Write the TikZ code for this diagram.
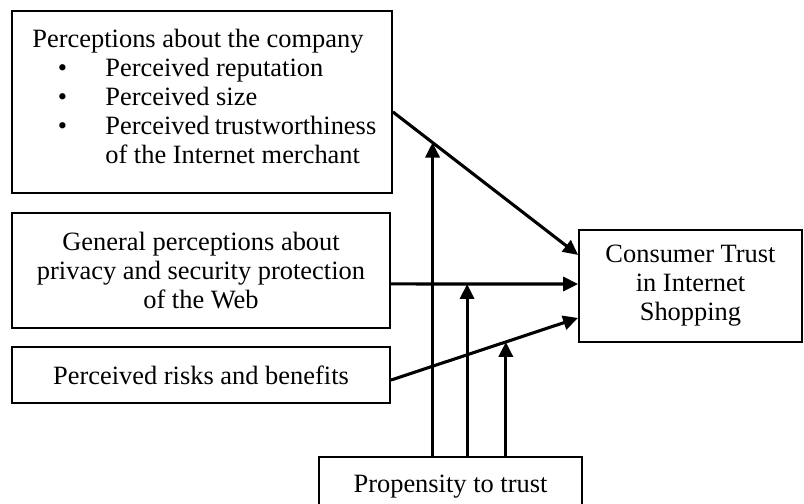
\documentclass[tikz,border=0pt]{standalone}
\usepackage{fontspec}
\setmainfont{Liberation Serif}
\usetikzlibrary{arrows.meta,positioning,calc}
\tikzset{
  box-style/.style 2 args = {
    rectangle, draw, line width=0.8pt,
    minimum width=#1*0.454pt,
    minimum height=#2*0.454pt,
    inner sep=0pt, align=center,
    font=\fontsize{12}{13.2}\selectfont
  },
  text-style/.style = {
    inner sep=0pt,
    font=\fontsize{12}{13.2}\selectfont
  },
  every edge/.style = {draw, -{Triangle[length=6.8pt,width=6.4pt]}, line width=1.4pt}
}

\begin{document}
\begin{tikzpicture}[x=0.454pt,y=-0.454pt]
    \useasboundingbox (0,0) rectangle (804,503);

    %%% factors
    \node[box-style={380}{182}] (perceptBox) at (202,102) {};
    \node[text-style,anchor=base west] (perceptText) at (32,47) {%
      \begin{tabular}[t]{@{}p{33.1pt}@{}p{123pt}@{}}
        \multicolumn{2}{@{}l@{}}{Perceptions about the company}\\
        \hspace*{11.6pt}\textbullet & Perceived reputation\\
        \hspace*{11.6pt}\textbullet & Perceived size\\
        \hspace*{11.6pt}\textbullet & \makebox[123pt][s]{Perceived\hfill trustworthiness}\\
        & of the Internet merchant
      \end{tabular}};
    \node[box-style={378}{115}] (privacyBox) at (201,270.5)
      {General perceptions about\\privacy and security protection\\of the Web};
    \node[box-style={378}{56}] (riskBox) at (201,375) {Perceived risks and benefits};

    %%% outcome and moderator
    \node[box-style={223}{112}] (trustBox) at (690.5,286) {Consumer Trust\\in Internet\\Shopping};
    \node[box-style={263}{60}] (propensityBox) at (450.5,487) {Propensity to trust};

    %%% arrows
    \path ([yshift=-4.5pt]perceptBox.east) edge node[coordinate,pos=0.214] (modA) {} ([yshift=14.1pt]trustBox.west);
    \path ([yshift=-6.1pt]privacyBox.east) edge node[coordinate,pos=0.407] (modB) {} ([yshift=0.9pt]trustBox.west);
    \path ([yshift=-2.3pt]riskBox.east) edge node[coordinate,pos=0.614] (modC) {} ([yshift=-14.5pt]trustBox.west);
    \path (modA |- propensityBox.north) edge (modA);
    \path (modB |- propensityBox.north) edge (modB);
    \path (modC |- propensityBox.north) edge (modC);
\end{tikzpicture}
\end{document}
